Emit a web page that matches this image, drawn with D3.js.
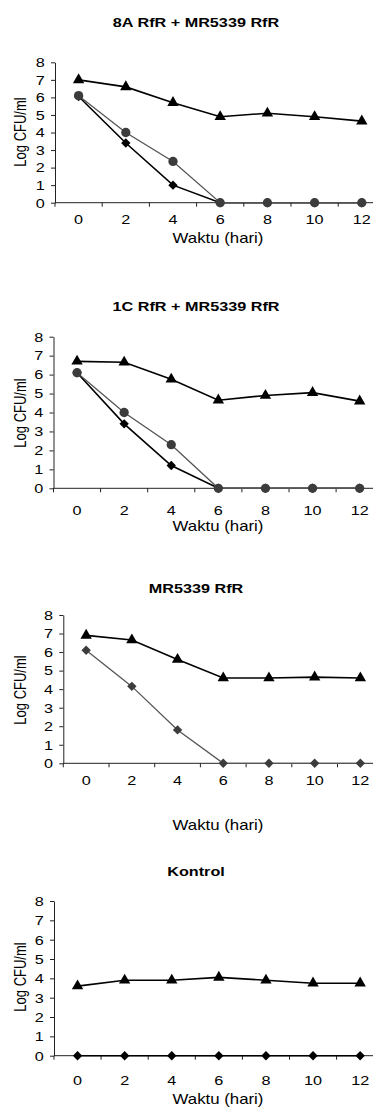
<!DOCTYPE html>
<html>
<head>
<meta charset="utf-8">
<script src="https://cdn.jsdelivr.net/npm/d3@7"></script>
<style>
body { margin: 0; background: #fff; }
svg { display: block; }
text { font-family: "Liberation Sans", Arial, sans-serif; fill: #000; }
</style>
</head>
<body>
<div id="chart"></div>
<script>
var days   = ["0", "2", "4", "6", "8", "10", "12"];
var yTicks = [0, 1, 2, 3, 4, 5, 6, 7, 8];
var titles = ["8A RfR + MR5339 RfR", "1C RfR + MR5339 RfR", "MR5339 RfR", "Kontrol"];

// panel 1: 8A RfR + MR5339 RfR
var p1Triangle = [7.0, 6.6, 5.7, 4.9, 5.1, 4.9, 4.65];
var p1Circle   = [6.1, 4.0, 2.35, 0, 0, 0, 0];
var p1Diamond  = [6.05, 3.4, 1.0, 0, 0, 0, 0];
// panel 2: 1C RfR + MR5339 RfR
var p2Triangle = [6.7, 6.65, 5.75, 4.65, 4.9, 5.05, 4.6];
var p2Circle   = [6.1, 4.0, 2.3, 0, 0, 0, 0];
var p2Diamond  = [6.1, 3.4, 1.2, 0, 0, 0, 0];
// panel 3: MR5339 RfR
var p3Triangle = [6.9, 6.65, 5.6, 4.6, 4.6, 4.65, 4.6];
var p3Diamond  = [6.1, 4.15, 1.8, 0, 0, 0, 0];
// panel 4: Kontrol
var p4Triangle = [3.6, 3.9, 3.9, 4.05, 3.9, 3.75, 3.75];
var p4Diamond  = [0, 0, 0, 0, 0, 0, 0];

// the original picture is stretched sideways, so text is too
var SX = 1.2;

var W = 373, H = 1111;

// where each small chart sits on the page
var layout = [
    {ax: 55,   top: 62.3,  bottom: 202.7,  bw: 47.2,  titleY: 26.5, tickY: 224, xtitleY: 243,  ylabY: 132},
    {ax: 53.5, top: 336.7, bottom: 488.3,  bw: 47.1,  titleY: 311,  tickY: 515, xtitleY: 531,  ylabY: 413},
    {ax: 63.3, top: 615,   bottom: 763.3,  bw: 45.7,  titleY: 593,  tickY: 785, xtitleY: 830,  ylabY: 690},
    {ax: 54,   top: 901,   bottom: 1055.7, bw: 47.1,  titleY: 876,  tickY: 1085, xtitleY: 1104, ylabY: 977}
];

var panels = [
    [{v: p1Diamond, shape: "diamond", fill: "#000", stroke: "#000", width: 1.6},
     {v: p1Circle, shape: "circle", fill: "#3c3c3c", stroke: "#555", width: 1.3},
     {v: p1Triangle, shape: "triangle", fill: "#000", stroke: "#000", width: 1.6}],
    [{v: p2Diamond, shape: "diamond", fill: "#000", stroke: "#000", width: 1.6},
     {v: p2Circle, shape: "circle", fill: "#3c3c3c", stroke: "#555", width: 1.3},
     {v: p2Triangle, shape: "triangle", fill: "#000", stroke: "#000", width: 1.6}],
    [{v: p3Diamond, shape: "diamond", fill: "#3c3c3c", stroke: "#555", width: 1.3},
     {v: p3Triangle, shape: "triangle", fill: "#000", stroke: "#000", width: 1.6}],
    [{v: p4Diamond, shape: "diamond", fill: "#000", stroke: "#000", width: 1.6},
     {v: p4Triangle, shape: "triangle", fill: "#000", stroke: "#000", width: 1.6}]
];

var symbols = {
    triangle: d3.symbol().type(d3.symbolTriangle).size(56)(),
    circle:   d3.symbol().type(d3.symbolCircle).size(68)(),
    diamond:  d3.symbol().type(d3.symbolSquare).size(44)()
};

var svg = d3.select("#chart").append("svg")
            .attr("width", W)
            .attr("height", H);

function stretched(sel, x, y, rot) {
    sel.attr("transform", "translate(" + x + "," + y + ") scale(" + SX + ",1)" + (rot ? " rotate(" + rot + ")" : ""));
}

layout.forEach(function(L, i) {
    var x = d3.scaleBand()
              .domain(days)
              .range([L.ax, L.ax + L.bw * days.length])
              .padding(0);
    var y = d3.scaleLinear()
              .domain([0, 8])
              .range([L.bottom, L.top]);

    var g = svg.append("g");

    // title
    g.append("text")
     .text(titles[i])
     .attr("text-anchor", "middle")
     .attr("font-size", "13.5px")
     .attr("font-weight", "bold")
     .call(stretched, 196, L.titleY);

    // y axis
    var yAxis = d3.axisLeft(y)
                  .tickValues(yTicks)
                  .tickSize(4)
                  .tickSizeOuter(0);
    var yg = g.append("g")
              .attr("transform", "translate(" + L.ax + ",0)")
              .call(yAxis);
    yg.select(".domain").attr("stroke", "#222");
    yg.selectAll(".tick line").attr("stroke", "#222");
    yg.selectAll(".tick text")
      .attr("font-size", "13.5px")
      .attr("font-family", null)
      .attr("x", -8.5)
      .attr("transform", "scale(" + SX + ",1)");

    // x axis: line to the page edge, ticks on band edges
    g.append("line")
     .attr("x1", L.ax).attr("x2", W)
     .attr("y1", y(0)).attr("y2", y(0))
     .attr("stroke", "#222");
    g.selectAll(".xtick")
     .data(days)
     .enter().append("line")
     .attr("x1", function(d) { return x(d); })
     .attr("x2", function(d) { return x(d); })
     .attr("y1", y(0))
     .attr("y2", y(0) + 4)
     .attr("stroke", "#222");
    g.selectAll(".xlabel")
     .data(days)
     .enter().append("text")
     .text(function(d) { return d; })
     .attr("text-anchor", "middle")
     .attr("font-size", "13.5px")
     .each(function(d) {
         d3.select(this).call(stretched, x(d) + x.bandwidth() / 2, L.tickY);
     });

    g.append("text")
     .text("Waktu (hari)")
     .attr("text-anchor", "middle")
     .attr("font-size", "14px")
     .call(stretched, 218, L.xtitleY);

    g.append("text")
     .text("Log CFU/ml")
     .attr("text-anchor", "middle")
     .attr("font-size", "13px")
     .call(stretched, 26, L.ylabY, -90);

    // series
    panels[i].forEach(function(s) {
        var line = d3.line()
                     .x(function(d, j) { return x(days[j]) + x.bandwidth() / 2; })
                     .y(function(d) { return y(d); });
        g.append("path")
         .datum(s.v)
         .attr("d", line)
         .attr("fill", "none")
         .attr("stroke", s.stroke)
         .attr("stroke-width", s.width);
        g.selectAll(".pt-" + s.shape)
         .data(s.v)
         .enter().append("path")
         .attr("d", symbols[s.shape])
         .attr("fill", s.fill)
         .attr("transform", function(d, j) {
             var t = "translate(" + (x(days[j]) + x.bandwidth() / 2) + "," + y(d) + ")";
             return s.shape == "diamond" ? t + " rotate(45)" : t;
         });
    });
});
</script>
</body>
</html>
